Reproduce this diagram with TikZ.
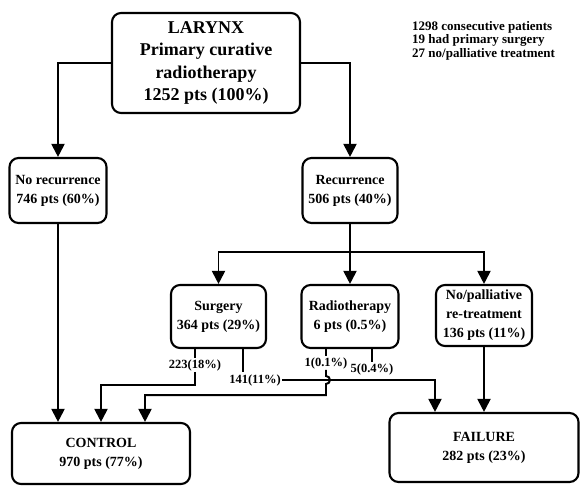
\documentclass[tikz,border=0pt]{standalone}
\usepackage{fontspec}
\setmainfont{Liberation Serif}
\usetikzlibrary{arrows.meta}
\tikzset{
        box/.style={draw=black, line width=0.75mm, rounded corners=9pt, align=center, inner sep=2pt, font=\bfseries\fontsize{14}{19}\selectfont},
        bigbox/.style={box, font=\bfseries\fontsize{18}{22.5}\selectfont},
        link/.style={line width=0.7mm},
        flow/.style={link, -{Triangle[width=13pt,length=13pt]}},
        count/.style={inner sep=1pt, font=\bfseries\fontsize{12.5}{14}\selectfont},
        note/.style={anchor=north west, align=left, inner sep=0pt, font=\bfseries\fontsize{13}{13.5}\selectfont}
          }
\begin{document}
\begin{tikzpicture}[x=1pt, y=-1pt]
            \useasboundingbox (0,0) rectangle (581,485);
            \node[bigbox, minimum width=188, minimum height=100] (larynx) at (206,63) {LARYNX\\Primary curative\\radiotherapy\\1252 pts (100\%)};
            \node[note] (info) at (412,21) {1298 consecutive patients\\19 had primary surgery\\27 no/palliative treatment};
            \node[box, minimum width=97, minimum height=65] (norec) at (58,190.5) {No recurrence\\746 pts (60\%)};
            \node[box, minimum width=95, minimum height=65] (rec) at (350,190.5) {Recurrence\\506 pts (40\%)};
            \node[box, minimum width=95, minimum height=63] (surg) at (218.5,316.5) {Surgery\\364 pts (29\%)};
            \node[box, minimum width=97, minimum height=63] (radio) at (350,316.5) {Radiotherapy\\6 pts (0.5\%)};
            \node[box, minimum width=96, minimum height=61] (nopal) at (484,315.5) {No/palliative\\re-treatment\\136 pts (11\%)};
            \node[box, minimum width=178, minimum height=61] (control) at (101,453.5) {CONTROL\\970 pts (77\%)};
            \node[box, minimum width=189, minimum height=69] (failure) at (484,447.5) {FAILURE\\282 pts (23\%)};
            \node[count] (s223) at (195,365) {223(18\%)};
            \node[count] (s141) at (255,380) {141(11\%)};
            \node[count] (r1) at (326,363) {1(0.1\%)};
            \node[count] (r5) at (372,369) {5(0.4\%)};
            \coordinate (split) at (350,252);
            \coordinate (t141) at (243,372);
            \coordinate (b223) at (195,385);
            \coordinate (b1) at (326,395);
            \coordinate (k1) at (145,395);
            \coordinate (f141) at (435,380);
            \draw[flow] (larynx.west) -| (norec.north);
            \draw[flow] (larynx.east) -| (rec.north);
            \draw[link] (rec.south) -- (split);
            \draw[flow] (split) -| (surg.north);
            \draw[flow] (split) -- (radio.north);
            \draw[flow] (split) -| (nopal.north);
            \draw[flow] (norec.south) -- (norec.south |- control.north);
            \draw[flow] (nopal.south) -- (failure.north);
            \draw[link] (s223.north |- surg.south) -- (s223.north);
            \draw[flow] (s223.south) -- (b223) -| (control.north);
            \draw[link] (t141 |- surg.south) -- (t141);
            \draw[flow] (s141.east) -- (f141) -- (f141 |- failure.north);
            \draw[link] (r1.north |- radio.south) -- (r1.north);
            \draw[flow] (r1.south) -- (326,376) arc (-90:90:4) -- (b1) -- (k1) -- (k1 |- control.north);
            \draw[link] (r5.north |- radio.south) -- (r5.north);
          \end{tikzpicture}
\end{document}
